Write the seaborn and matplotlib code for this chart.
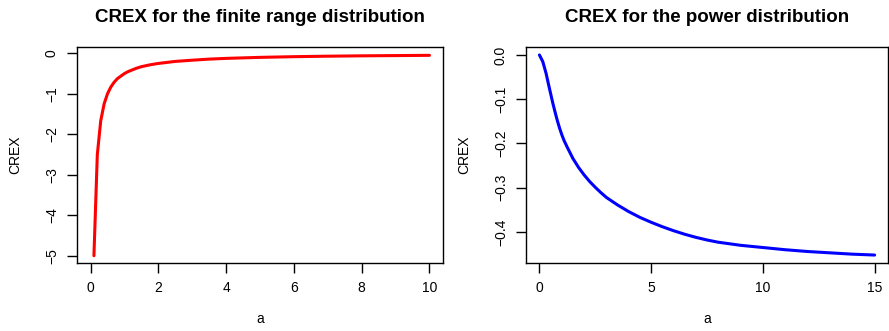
import numpy as np
import pandas as pd
import matplotlib
matplotlib.use("Agg")
import matplotlib.pyplot as plt
import seaborn as sns

# values
finite_a = [0.1, 0.2, 0.3, 0.4, 0.5, 0.6, 0.7, 0.8, 0.9, 1.0, 1.1, 1.2, 1.35,
            1.5, 1.75, 2.0, 2.5, 3.0, 3.5, 4.0, 5.0, 6.0, 7.0, 8.0, 9.0, 10.0]
finite_crex = [-5.0, -2.5, -1.67, -1.25, -1.0, -0.83, -0.71, -0.62, -0.56, -0.5,
               -0.455, -0.42, -0.37, -0.33, -0.285, -0.25, -0.2, -0.17, -0.143,
               -0.125, -0.1, -0.083, -0.071, -0.062, -0.056, -0.05]

power_a = [0, 0.15, 0.3, 0.4, 0.5, 0.6, 0.7, 0.8, 0.9, 1.0, 1.1, 1.25, 1.5,
           1.75, 2.0, 2.25, 2.5, 2.75, 3.0, 3.5, 4.0, 4.5, 5.0, 5.5, 6.0, 6.5,
           7.0, 7.5, 8.0, 9.0, 10.0, 11.0, 12.0, 13.0, 14.0, 15.0]
power_crex = [0.0, -0.015, -0.042, -0.065, -0.087, -0.109, -0.129, -0.148,
              -0.165, -0.180, -0.193, -0.209, -0.234, -0.254, -0.271, -0.286,
              -0.299, -0.311, -0.322, -0.339, -0.354, -0.367, -0.378, -0.388,
              -0.397, -0.405, -0.412, -0.418, -0.423, -0.430, -0.435, -0.440,
              -0.444, -0.447, -0.450, -0.452]

finite_df = pd.DataFrame({"a": finite_a, "CREX": finite_crex})
power_df = pd.DataFrame({"a": power_a, "CREX": power_crex})

sns.set_style("ticks")
plt.rcParams["font.family"] = ["Liberation Sans", "DejaVu Sans"]
plt.rcParams["text.color"] = "black"
plt.rcParams["axes.labelcolor"] = "black"

fig = plt.figure(figsize=(8.89, 3.31), dpi=100)
ax1 = fig.add_axes([0.0866, 0.2054, 0.4117, 0.6526])
ax2 = fig.add_axes([0.5917, 0.2054, 0.4072, 0.6526])

sns.lineplot(data=finite_df, x="a", y="CREX", ax=ax1, color="red",
             linewidth=2.2, estimator=None, sort=False)
sns.lineplot(data=power_df, x="a", y="CREX", ax=ax2, color="blue",
             linewidth=2.2, estimator=None, sort=False)

ax1.set_xlim(-0.4, 10.4)
ax1.set_ylim(-5.18, 0.156)
ax1.set_xticks([0, 2, 4, 6, 8, 10])
ax1.set_yticks([0, -1, -2, -3, -4, -5])
ax1.set_yticklabels(["0", "\u22121", "\u22122", "\u22123", "\u22124", "\u22125"])
ax1.set_title("CREX for the finite range distribution", fontsize=13.5,
              fontweight="bold", pad=18, color="black")

ax2.set_xlim(-0.6, 15.6)
ax2.set_ylim(-0.470, 0.018)
ax2.set_xticks([0, 5, 10, 15])
ax2.set_yticks([0.0, -0.1, -0.2, -0.3, -0.4])
ax2.set_yticklabels(["0.0", "\u22120.1", "\u22120.2", "\u22120.3", "\u22120.4"])
ax2.set_title("CREX for the power distribution", fontsize=13.5,
              fontweight="bold", pad=18, color="black")

for ax in (ax1, ax2):
    for s in ax.spines.values():
        s.set_visible(True)
        s.set_linewidth(1.0)
        s.set_color("black")
    ax.tick_params(direction="out", length=7, width=1, labelsize=10,
                   colors="black", pad=6)
    for lab in ax.get_yticklabels():
        lab.set_rotation(90)
        lab.set_va("center")
    ax.set_xlabel("a", fontsize=10, labelpad=12)
    ax.set_ylabel("CREX", fontsize=10, labelpad=16)
    ax.grid(False)

fig.savefig("out.png", dpi=100)
